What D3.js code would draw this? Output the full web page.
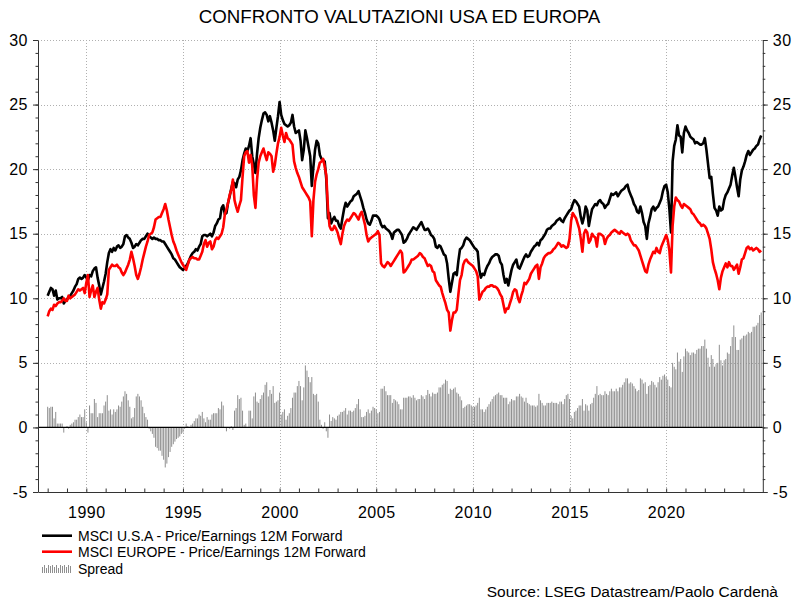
<!DOCTYPE html>
<html><head><meta charset="utf-8">
<script src="https://cdn.jsdelivr.net/npm/d3@7"></script>
<style>
body{margin:0;background:#fff}
svg{display:block}
text{font-family:"Liberation Sans",Arial,sans-serif;fill:#000}
</style>
</head><body>
<svg id="c" width="800" height="602"></svg>
<script>
// ---------- DATA (monthly, Jan 1988 - Dec 2024) ----------
const startYear = 1988;
const usaPE = [
10.2,10.5,10.8,10.7,10.2,10.6,9.9,10.0,10.0,10.1,9.6,9.8,
9.9,10.1,10.2,10.4,10.6,10.9,11.1,11.5,11.6,11.5,11.6,11.8,
11.6,11.4,11.8,11.7,12.1,12.3,12.4,11.6,11.0,10.3,10.8,11.3,
11.9,12.8,13.5,13.8,13.6,13.9,13.7,14.0,14.1,13.9,14.0,14.2,
14.8,14.9,14.7,14.6,14.3,13.9,14.0,14.2,14.1,14.3,14.5,14.6,
14.6,14.8,15.0,14.8,14.7,14.6,14.7,14.6,14.6,14.5,14.5,14.4,
14.4,14.2,14.0,13.8,13.6,13.4,13.1,13.0,12.8,12.6,12.4,12.3,
12.2,12.3,12.5,12.7,13.0,13.3,13.5,13.6,13.8,13.7,14.0,14.2,
14.8,14.9,14.9,14.8,14.9,15.0,14.8,15.1,15.6,15.8,16.1,16.2,
17.0,17.2,16.5,16.6,17.4,17.9,18.5,19.0,18.9,18.6,19.2,19.4,
19.9,20.7,21.2,21.6,21.4,21.8,22.4,21.0,20.4,19.7,21.2,22.4,
23.2,23.8,24.3,24.4,24.2,23.7,24.1,23.6,23.0,22.2,23.2,24.1,
25.2,24.2,23.8,23.5,23.4,23.3,23.4,23.6,24.2,23.3,22.8,22.9,
23.0,22.2,20.7,21.5,23.0,22.4,21.7,21.0,18.7,20.2,21.5,22.2,
22.0,21.1,20.8,20.7,20.6,19.2,16.2,16.6,15.8,16.1,16.3,16.0,
16.0,15.6,15.4,16.2,16.9,17.4,17.1,17.3,17.5,17.6,17.9,18.0,
18.1,18.3,17.9,17.5,17.0,16.6,16.1,15.8,15.7,16.0,16.4,16.4,
16.4,16.3,16.1,15.7,15.5,15.6,15.4,15.3,15.2,15.0,14.6,15.1,
15.2,15.3,15.3,15.1,14.9,14.3,14.4,14.6,14.9,15.1,15.3,15.5,
15.4,15.3,15.5,15.7,15.9,15.6,15.3,15.3,15.4,15.2,14.9,14.8,
14.6,14.0,13.9,14.1,14.0,13.7,13.4,13.3,12.7,11.5,10.5,11.2,
11.9,12.0,11.8,12.9,13.8,13.9,14.1,14.5,14.7,14.6,14.5,14.3,
14.1,13.9,13.8,13.6,12.2,11.6,11.9,11.8,12.2,12.5,12.7,13.0,
13.2,13.3,13.4,13.4,13.3,12.8,12.6,11.8,11.2,11.5,11.0,11.6,
12.2,12.6,12.8,13.0,12.4,12.3,12.6,12.9,13.2,13.4,13.2,13.3,
13.6,13.8,14.0,14.1,14.3,14.1,14.5,14.6,14.8,15.0,15.3,15.4,
15.4,15.6,15.7,15.8,16.0,16.1,16.2,16.0,15.9,16.2,16.4,16.6,
16.8,16.9,17.3,17.6,17.5,17.3,17.1,16.3,15.8,16.3,17.1,16.8,
15.6,16.3,16.9,17.1,17.3,17.2,17.5,17.6,17.4,17.3,17.0,17.2,
17.3,17.7,18.1,18.0,18.1,18.2,17.9,18.1,18.3,18.4,18.5,18.7,
18.8,18.3,18.0,17.7,17.3,17.1,16.7,16.6,17.1,16.6,15.9,15.6,
14.6,15.8,16.3,16.9,17.1,16.8,17.0,17.1,17.4,17.7,18.3,18.7,
18.8,18.2,16.9,15.1,20.6,21.8,22.3,23.4,22.6,22.5,21.3,22.8,
23.3,23.0,22.8,22.5,22.4,22.3,22.0,22.1,22.0,21.9,21.9,22.0,
22.4,21.5,20.4,19.3,19.4,18.1,17.0,16.8,16.4,17.1,16.8,16.9,
17.6,18.0,18.2,18.5,18.8,19.5,20.1,19.4,18.6,17.9,19.2,19.9,
20.2,20.6,21.1,21.4,21.1,21.3,21.5,21.6,21.8,21.9,22.3,22.6
];
const europePE = [
8.6,9.0,9.2,9.1,9.5,9.4,9.6,9.7,9.7,9.8,10.0,9.8,
9.8,10.2,10.0,10.1,10.2,10.3,10.5,10.7,10.6,10.7,10.8,10.4,
11.2,11.8,10.1,10.6,11.0,10.1,10.5,10.8,9.9,9.2,9.7,9.6,
9.9,10.3,12.2,12.4,12.6,12.5,12.5,12.6,12.4,12.3,12.0,11.8,
12.0,12.3,12.6,13.0,13.6,13.1,12.5,11.8,11.5,11.9,12.4,13.0,
13.5,14.0,14.4,14.9,15.0,15.1,15.5,16.1,16.2,16.3,16.3,16.6,
16.9,17.3,16.8,16.1,15.5,14.9,14.4,14.1,13.7,13.4,13.1,12.8,
12.6,12.4,12.2,12.6,13.0,13.1,13.2,13.1,13.1,13.0,13.0,13.3,
13.6,14.2,14.5,14.0,14.3,14.4,13.8,14.0,14.5,14.7,14.6,14.8,
15.0,15.5,16.5,16.9,17.4,18.0,18.4,19.2,17.6,17.1,16.7,17.2,
17.6,19.4,21.0,21.3,21.4,20.5,21.1,20.3,18.0,17.0,19.2,20.5,
21.0,21.3,21.6,21.1,20.7,21.3,21.2,21.0,19.8,20.3,21.2,22.0,
22.5,23.2,22.6,22.1,22.8,22.4,22.3,22.1,21.9,20.6,20.1,19.7,
19.4,19.0,18.6,18.4,18.2,18.0,17.8,17.5,14.8,17.6,19.0,19.6,
20.0,20.5,20.6,20.8,20.2,19.5,17.0,15.6,15.3,15.3,15.6,15.4,
15.1,14.6,14.2,15.0,15.6,15.9,16.1,16.0,16.2,16.4,16.6,16.5,
16.3,16.1,16.5,16.7,16.2,15.7,14.9,14.4,14.6,14.7,14.8,14.9,
15.0,15.2,14.9,12.7,12.5,12.4,12.6,12.8,12.7,12.5,12.7,12.9,
13.1,13.3,13.5,13.7,13.5,12.0,12.1,12.3,12.5,12.7,13.0,13.0,
13.1,13.2,13.3,13.5,13.4,13.2,13.1,12.8,12.5,12.6,12.5,12.1,
12.0,11.4,11.2,11.0,10.9,10.4,10.0,9.6,9.1,8.9,7.5,8.3,
8.9,8.9,9.1,10.3,11.4,11.8,12.6,12.9,13.0,12.8,12.7,12.6,
12.5,12.3,12.1,11.7,9.9,10.2,10.5,10.6,10.8,10.9,10.9,11.0,
11.0,10.9,10.9,10.8,10.6,10.3,10.1,9.5,8.9,9.2,9.2,9.6,
10.0,10.5,10.7,10.6,10.0,9.7,10.2,10.6,11.2,11.1,11.3,11.5,
11.9,12.1,12.3,12.5,12.6,11.5,12.4,12.7,13.1,13.3,13.4,13.5,
13.5,13.6,13.8,13.9,14.1,14.3,14.2,14.0,14.1,14.0,13.9,14.0,
14.6,16.0,16.6,16.4,16.2,15.8,15.4,14.6,13.6,15.0,15.3,15.1,
14.3,14.5,15.0,14.8,14.7,14.0,15.0,15.0,14.9,14.8,14.2,14.6,
14.8,14.9,15.1,15.2,15.3,15.2,15.1,15.0,15.2,15.1,15.0,14.9,
15.0,14.9,14.5,14.3,14.1,14.1,13.9,13.7,13.3,12.9,12.5,12.1,
12.0,12.6,13.0,13.3,13.6,13.5,13.9,13.6,13.5,14.0,14.3,14.6,
14.9,14.5,13.7,12.0,15.6,17.1,17.8,17.6,17.5,17.2,17.0,17.3,
17.2,17.1,17.0,16.9,16.6,16.5,16.3,16.1,15.9,15.8,15.6,15.7,
15.6,15.4,15.0,14.6,13.8,12.8,12.3,11.9,11.4,10.7,11.6,12.1,
12.4,12.7,12.4,12.8,12.5,12.5,12.2,12.4,12.6,11.9,12.4,13.0,
13.1,13.5,13.9,14.0,13.8,13.9,13.7,13.8,13.9,13.8,13.6,13.7
];
const yTickValues = [-5, 0, 5, 10, 15, 20, 25, 30];
const yTickLabels = ["-5", "0", "5", "10", "15", "20", "25", "30"];
const xTickValues = [1990, 1995, 2000, 2005, 2010, 2015, 2020];
const xTickLabels = ["1990", "1995", "2000", "2005", "2010", "2015", "2020"];
const seriesNames = ["MSCI U.S.A - Price/Earnings 12M Forward", "MSCI EUROPE - Price/Earnings 12M Forward", "Spread"];
const titleText = "CONFRONTO VALUTAZIONI USA ED EUROPA";
const sourceText = "Source: LSEG Datastream/Paolo Cardenà";

// ---------- CHART ----------
const data = usaPE.map((v, i) => ({
  t: startYear + i / 12,
  usa: v,
  eur: europePE[i],
  spread: v - europePE[i]
}));

const svg = d3.select("#c");
const L = 38, R = 762.8, T = 40, B = 492;
const x = d3.scaleLinear().domain([1987.5, 2025]).range([L, R]);
const y = d3.scaleLinear().domain([-5, 30]).range([B, T]);

// title
svg.append("text").attr("x", 399.5).attr("y", 23).attr("text-anchor", "middle")
  .style("font-size", "18.7px").text(titleText);

// gridlines
const grid = svg.append("g").attr("stroke", "#b0b0b0").attr("stroke-width", 1)
  .attr("stroke-dasharray", "1,2").attr("fill", "none");
yTickValues.filter(v => v > 0).forEach(v => {
  grid.append("line").attr("x1", L).attr("x2", R)
    .attr("y1", Math.round(y(v)) + 0.5).attr("y2", Math.round(y(v)) + 0.5);
});
xTickValues.forEach(v => {
  grid.append("line").attr("y1", T).attr("y2", B)
    .attr("x1", Math.round(x(v)) + 0.5).attr("x2", Math.round(x(v)) + 0.5);
});

// spread bars
svg.append("g").selectAll("rect").data(data).join("rect")
  .attr("x", d => x(d.t) - 0.5)
  .attr("width", 1)
  .attr("y", d => y(Math.max(0, d.spread)))
  .attr("height", d => Math.abs(y(d.spread) - y(0)))
  .attr("fill", "#8f8f8f");

// zero line
svg.append("line").attr("x1", L).attr("x2", R).attr("y1", y(0)).attr("y2", y(0))
  .attr("stroke", "#000").attr("stroke-width", 1.3);

// lines
const lineUsa = d3.line().x(d => x(d.t)).y(d => y(d.usa));
const lineEur = d3.line().x(d => x(d.t)).y(d => y(d.eur));
svg.append("path").datum(data).attr("d", lineUsa).attr("fill", "none")
  .attr("stroke", "#000").attr("stroke-width", 2.6).attr("stroke-linejoin", "round");
svg.append("path").datum(data).attr("d", lineEur).attr("fill", "none")
  .attr("stroke", "#ff0000").attr("stroke-width", 2.6).attr("stroke-linejoin", "round");

// axes
const fmtY = d => yTickLabels[yTickValues.indexOf(d)];
function styleAxis(g) {
  g.selectAll("path,line").attr("stroke", "#333");
  g.selectAll("text").style("font-size", "16px").style("letter-spacing", "0.5px")
    .attr("fill", "#000");
}
const minorY = d3.range(-5, 31);
svg.append("g").attr("transform", `translate(${L},0)`)
  .call(d3.axisLeft(y).tickValues(minorY).tickSize(2.5).tickSizeOuter(0).tickFormat(""))
  .call(styleAxis);
svg.append("g").attr("transform", `translate(${L},0)`)
  .call(d3.axisLeft(y).tickValues(yTickValues).tickSize(5).tickSizeOuter(0).tickPadding(5).tickFormat(fmtY))
  .call(styleAxis).call(g => g.select(".domain").remove());
svg.append("g").attr("transform", `translate(${R},0)`)
  .call(d3.axisRight(y).tickValues(minorY).tickSize(2.5).tickSizeOuter(0).tickFormat(""))
  .call(styleAxis);
svg.append("g").attr("transform", `translate(${R},0)`)
  .call(d3.axisRight(y).tickValues(yTickValues).tickSize(5).tickSizeOuter(0).tickPadding(5).tickFormat(fmtY))
  .call(styleAxis).call(g => g.select(".domain").remove());

svg.append("g").attr("transform", `translate(0,${B})`)
  .call(d3.axisBottom(x).tickValues(d3.range(1988, 2025)).tickSize(-3.5).tickSizeOuter(0).tickFormat(""))
  .call(styleAxis);
svg.append("g").attr("transform", `translate(0,${B})`)
  .call(d3.axisBottom(x).tickValues(xTickValues).tickSize(0).tickPadding(15)
    .tickFormat(d => xTickLabels[xTickValues.indexOf(d)]))
  .call(styleAxis).call(g => g.select(".domain").remove());

// legend
const lg = svg.append("g");
lg.append("line").attr("x1", 42).attr("x2", 72).attr("y1", 535.7).attr("y2", 535.7)
  .attr("stroke", "#000").attr("stroke-width", 2.6);
lg.append("line").attr("x1", 42).attr("x2", 72).attr("y1", 551.7).attr("y2", 551.7)
  .attr("stroke", "#ff0000").attr("stroke-width", 2.6);
const iconH = [6, 8, 5, 8, 7, 8, 6, 8, 5, 8, 7, 8, 6, 8, 7];
lg.selectAll("rect.ic").data(iconH).join("rect").attr("class", "ic")
  .attr("x", (d, i) => 42 + i * 2).attr("width", 1)
  .attr("y", d => 573 - d).attr("height", d => d).attr("fill", "#8f8f8f");
[541, 557.3, 573.5].forEach((yy, i) => {
  lg.append("text").attr("x", 78).attr("y", yy).style("font-size", "14px").text(seriesNames[i]);
});

// source
svg.append("text").attr("x", 778).attr("y", 596.5).attr("text-anchor", "end")
  .style("font-size", "15.5px").text(sourceText);
</script>
</body></html>
